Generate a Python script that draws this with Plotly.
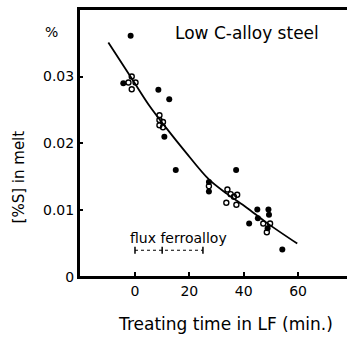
import plotly.graph_objects as go

# filled (solid) data points: treating time (min), [%S]
filled_x = [-1.6, -4.3, 8.6, 12.6, 10.8, 15.0, 37.2, 27.2, 27.2, 45.0, 49.1, 49.3, 42.0, 45.2, 48.8, 54.2]
filled_y = [0.0361, 0.0290, 0.0280, 0.0266, 0.0210, 0.0160, 0.0160, 0.0142, 0.0128, 0.0101, 0.0101, 0.0093, 0.0080, 0.0088, 0.0073, 0.0041]

# open data points
open_x = [-1.2, -2.4, 0.2, -1.2, 9.0, 9.0, 10.3, 9.0, 10.3, 27.2, 34.0, 35.2, 36.4, 37.6, 33.6, 37.3, 47.2, 49.7, 48.5]
open_y = [0.0300, 0.0291, 0.0291, 0.0281, 0.0242, 0.0235, 0.0232, 0.0227, 0.0224, 0.0136, 0.0131, 0.0124, 0.0120, 0.0123, 0.0111, 0.0108, 0.0080, 0.0080, 0.0067]

# trend curve
curve_x = [-9.8, -1.2, 5.5, 11.7, 18.4, 27.2, 34.0, 41.0, 48.5, 59.7]
curve_y = [0.0351, 0.0297, 0.0255, 0.0222, 0.0188, 0.0146, 0.0124, 0.0104, 0.0081, 0.0050]

# flux / ferroalloy addition period bar
bar_x = [0, 10, 25]
bar_y = [0.004, 0.004, 0.004]

x_ticks = [0, 20, 40, 60]
y_ticks = [0, 0.01, 0.02, 0.03]
y_ticktext = ["0", "0.01", "0.02", "0.03"]

FONT = "DejaVu Sans"

fig = go.Figure()
fig.add_trace(go.Scatter(x=curve_x, y=curve_y, mode="lines",
                         line=dict(color="black", width=1.8, shape="spline", smoothing=1.0),
                         hoverinfo="skip"))
fig.add_trace(go.Scatter(x=bar_x, y=bar_y, mode="lines+markers",
                         line=dict(color="black", width=1.2, dash="dot"),
                         marker=dict(symbol="line-ns", size=5, line=dict(color="black", width=1.5))))
fig.add_trace(go.Scatter(x=filled_x, y=filled_y, mode="markers",
                         marker=dict(symbol="circle", size=6, color="black")))
fig.add_trace(go.Scatter(x=open_x, y=open_y, mode="markers",
                         marker=dict(symbol="circle-open", size=5, color="black", line=dict(width=1.4))))

fig.update_layout(
    width=347, height=338,
    margin=dict(l=79, r=0, t=9, b=61),
    paper_bgcolor="white", plot_bgcolor="white",
    showlegend=False,
    font=dict(family=FONT, color="black", size=14),
    xaxis=dict(range=[-20.6, 78.0], tickvals=x_ticks, ticks="inside", ticklen=5, tickwidth=1.5,
               tickcolor="black", showline=True, linecolor="black", linewidth=2, mirror=True,
               showgrid=False, zeroline=False,
               tickfont=dict(size=14, family=FONT)),
    yaxis=dict(range=[0, 0.0401], tickvals=y_ticks, ticktext=y_ticktext, ticks="inside", ticklen=4,
               tickwidth=1.5, tickcolor="black", showline=True, linecolor="black", linewidth=2,
               showgrid=False, zeroline=False,
               tickfont=dict(size=14, family=FONT)),
)

# plot frame (left, bottom, top) as a backup for the axis lines
frame = dict(type="line", xref="paper", yref="paper", line=dict(color="black", width=2), layer="above")
fig.add_shape(x0=0, x1=0, y0=0, y1=1, **frame)
fig.add_shape(x0=0, x1=1, y0=0, y1=0, **frame)
fig.add_shape(x0=0, x1=1, y0=1, y1=1, **frame)

fig.add_annotation(text="Low C-alloy steel", x=14, y=0.0365, xref="x", yref="y",
                   xanchor="left", yanchor="middle", showarrow=False,
                   font=dict(size=17, family=FONT))
fig.add_annotation(text="%", x=0, y=0.0367, xref="paper", yref="y", xshift=-28,
                   xanchor="center", yanchor="middle", showarrow=False,
                   font=dict(size=14, family=FONT))
fig.add_annotation(text="[%S] in melt", x=0, y=0.0149, xref="paper", yref="y", xshift=-60,
                   xanchor="center", yanchor="middle", textangle=-90, showarrow=False,
                   font=dict(size=15, family=FONT))
fig.add_annotation(text="Treating time in LF (min.)", x=0.545, y=0, xref="paper", yref="paper",
                   yshift=-47, xanchor="center", yanchor="middle", showarrow=False,
                   font=dict(size=17, family=FONT))
fig.add_annotation(text="flux ferroalloy", x=-2.6, y=0.0058, xref="x", yref="y",
                   xanchor="left", yanchor="middle", showarrow=False,
                   font=dict(size=14, family=FONT))

fig.write_html("out.html")
